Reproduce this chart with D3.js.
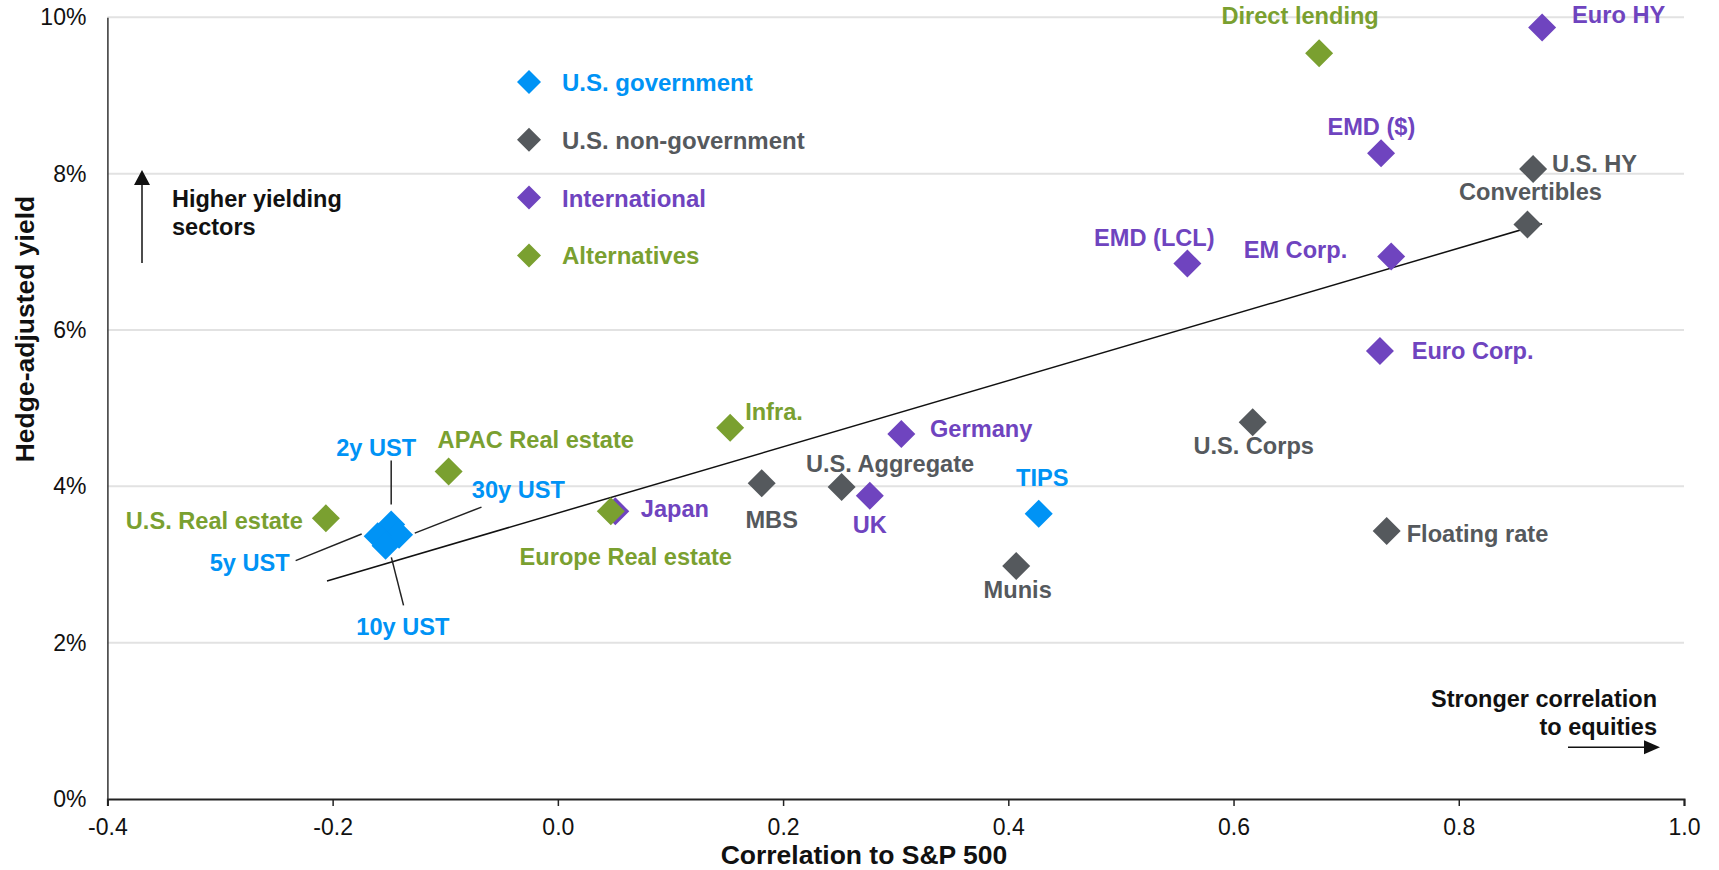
<!DOCTYPE html>
<html><head><meta charset="utf-8">
<script src="https://cdn.jsdelivr.net/npm/d3@7"></script>
<style>
body{margin:0;background:#fff;}
svg{display:block;font-family:"Liberation Sans",Arial,Helvetica,sans-serif;}
</style>
</head><body>
<svg id="chart" width="1719" height="870"></svg>
<script>
// ---------- data ----------
const groups = ["U.S. government", "U.S. non-government", "International", "Alternatives"];
const groupColors = ["#0093f5", "#55595d", "#6f44bf", "#7aa030"];

const usGovNames = ["2y UST", "30y UST", "5y UST", "10y UST", "TIPS"];
const usGovCorr  = [-0.148, -0.141, -0.160, -0.153, 0.427];
const usGovYield = [3.51, 3.38, 3.36, 3.24, 3.65];

const usNonGovNames = ["MBS", "U.S. Aggregate", "Munis", "U.S. Corps", "Floating rate", "Convertibles", "U.S. HY"];
const usNonGovCorr  = [0.181, 0.252, 0.407, 0.617, 0.736, 0.861, 0.866];
const usNonGovYield = [4.04, 3.99, 2.98, 4.82, 3.43, 7.35, 8.06];

const intlNames = ["Japan", "UK", "Germany", "EMD (LCL)", "EM Corp.", "Euro Corp.", "EMD ($)", "Euro HY"];
const intlCorr  = [0.051, 0.277, 0.305, 0.559, 0.740, 0.730, 0.731, 0.874];
const intlYield = [3.68, 3.88, 4.67, 6.85, 6.94, 5.73, 8.26, 9.87];

const altNames = ["U.S. Real estate", "APAC Real estate", "Europe Real estate", "Infra.", "Direct lending"];
const altCorr  = [-0.206, -0.097, 0.047, 0.153, 0.676];
const altYield = [3.59, 4.19, 3.68, 4.75, 9.54];

const trendCorr  = [-0.205, 0.874];
const trendYield = [2.79, 7.36];

const xTicks = [-0.4, -0.2, 0.0, 0.2, 0.4, 0.6, 0.8, 1.0];
const xTickLabels = ["-0.4", "-0.2", "0.0", "0.2", "0.4", "0.6", "0.8", "1.0"];
const yTicks = [0, 2, 4, 6, 8, 10];
const yTickLabels = ["0%", "2%", "4%", "6%", "8%", "10%"];

const xTitle = "Correlation to S&P 500";
const yTitle = "Hedge-adjusted yield";

// ---------- layout (label placement, pixels relative to point) ----------
const labelLayout = {
  "2y UST": [-15, -69, "middle", [0, -64, 0, -20]],
  "30y UST": [72.7, -36.7, "start", [82.4, -27.7, 15.7, -1.7]],
  "5y UST": [-128, 35, "middle", [-82, 24.3, -16, -2.4]],
  "10y UST": [17.3, 89, "middle", [5.8, 11.7, 18, 59.7]],
  "TIPS": [3.5, -27.3, "middle"],
  "MBS": [10, 45, "middle"],
  "U.S. Aggregate": [48.4, -15, "middle"],
  "Munis": [1.5, 31.6, "middle"],
  "U.S. Corps": [1, 31.7, "middle"],
  "Floating rate": [20, 11.3, "start"],
  "Convertibles": [3, -24, "middle"],
  "U.S. HY": [18.8, 3.3, "start"],
  "Japan": [25.5, 5.6, "start"],
  "UK": [0, 37.6, "middle"],
  "Germany": [28.7, 3, "start"],
  "EMD (LCL)": [-33, -18, "middle"],
  "EM Corp.": [-44, 1.6, "end"],
  "Euro Corp.": [31.7, 7.6, "start"],
  "EMD ($)": [-9.7, -18, "middle"],
  "Euro HY": [30, -4, "start"],
  "U.S. Real estate": [-23, 10.7, "end"],
  "APAC Real estate": [-11, -23.4, "start"],
  "Europe Real estate": [15, 54, "middle"],
  "Infra.": [15, -7.7, "start"],
  "Direct lending": [-19, -29, "middle"]
};

// ---------- build ----------
const svg = d3.select("#chart");
const x = d3.scaleLinear().domain([-0.4, 1.0]).range([107.4, 1684]);
const y = d3.scaleLinear().domain([0, 10]).range([799, 17.3]);

const groupData = [
  {g: 1, names: usNonGovNames, xs: usNonGovCorr, ys: usNonGovYield},
  {g: 2, names: intlNames, xs: intlCorr, ys: intlYield},
  {g: 3, names: altNames, xs: altCorr, ys: altYield},
  {g: 0, names: usGovNames, xs: usGovCorr, ys: usGovYield}
];
const points = [];
groupData.forEach(gd => gd.names.forEach((n, i) => points.push({name: n, c: gd.xs[i], v: gd.ys[i], g: gd.g})));

// gridlines
svg.append("g")
  .selectAll("line").data(yTicks.filter(t => t > 0)).join("line")
  .attr("x1", x(-0.4)).attr("x2", x(1.0))
  .attr("y1", d => y(d)).attr("y2", d => y(d))
  .attr("stroke", "#e2e2e2").attr("stroke-width", 2);

// x axis
const xAxis = d3.axisBottom(x).tickValues(xTicks).tickFormat((d, i) => xTickLabels[i]).tickSize(7).tickPadding(13);
const gx = svg.append("g").attr("transform", `translate(0,${y(0)})`).call(xAxis);
gx.select(".domain").attr("stroke", "#222").attr("stroke-width", 2);
gx.selectAll(".tick line").attr("stroke", "#222").attr("stroke-width", 1.5);
gx.selectAll(".tick text").attr("font-size", 23).attr("fill", "#111").attr("font-family", null);

// y axis
const yAxis = d3.axisLeft(y).tickValues(yTicks).tickFormat((d, i) => yTickLabels[i]).tickSize(0).tickPadding(21);
const gy = svg.append("g").attr("transform", `translate(${x(-0.4)},0)`).call(yAxis);
gy.select(".domain").attr("stroke", "#333").attr("stroke-width", 1.5);
gy.selectAll(".tick text").attr("font-size", 23).attr("fill", "#111").attr("font-family", null);

// axis titles
svg.append("text").attr("x", 864).attr("y", 864).attr("text-anchor", "middle")
  .attr("font-size", 26.5).attr("font-weight", "bold").attr("fill", "#111").text(xTitle);
svg.append("text").attr("transform", "translate(34,329) rotate(-90)").attr("text-anchor", "middle")
  .attr("font-size", 26.5).attr("font-weight", "bold").attr("fill", "#111").text(yTitle);

// trend line
svg.append("line")
  .attr("x1", x(trendCorr[0])).attr("y1", y(trendYield[0]))
  .attr("x2", x(trendCorr[1])).attr("y2", y(trendYield[1]))
  .attr("stroke", "#111").attr("stroke-width", 1.5);

// leader lines
svg.append("g").selectAll("line").data(points.filter(p => labelLayout[p.name] && labelLayout[p.name][3])).join("line")
  .attr("x1", p => x(p.c) + labelLayout[p.name][3][0]).attr("y1", p => y(p.v) + labelLayout[p.name][3][1])
  .attr("x2", p => x(p.c) + labelLayout[p.name][3][2]).attr("y2", p => y(p.v) + labelLayout[p.name][3][3])
  .attr("stroke", "#222").attr("stroke-width", 1.5);

// diamonds
const diamond = d3.symbol().type(d3.symbolSquare).size(392);
svg.append("g").selectAll("path").data(points).join("path")
  .attr("d", diamond)
  .attr("transform", p => `translate(${x(p.c)},${y(p.v)}) rotate(45)`)
  .attr("fill", p => groupColors[p.g]);

// labels
svg.append("g").selectAll("text").data(points).join("text")
  .attr("x", p => x(p.c) + labelLayout[p.name][0])
  .attr("y", p => y(p.v) + labelLayout[p.name][1])
  .attr("text-anchor", p => labelLayout[p.name][2])
  .attr("font-size", 23.6).attr("font-weight", "bold")
  .attr("fill", p => groupColors[p.g])
  .text(p => p.name);

// legend
const legendDiamond = d3.symbol().type(d3.symbolSquare).size(288);
const lg = svg.append("g").selectAll("g").data(groups).join("g")
  .attr("transform", (d, i) => `translate(529,${82 + i * 57.8})`);
lg.append("path").attr("d", legendDiamond).attr("transform", "rotate(45)").attr("fill", (d, i) => groupColors[i]);
lg.append("text").attr("x", 33).attr("y", 9).attr("font-size", 24).attr("font-weight", "bold")
  .attr("fill", (d, i) => groupColors[i]).text(d => d);

// annotations
const ann = svg.append("g");
ann.append("line").attr("x1", 142).attr("y1", 263).attr("x2", 142).attr("y2", 182).attr("stroke", "#111").attr("stroke-width", 1.5);
ann.append("path").attr("d", "M142,170 L134,185 L150,185 Z").attr("fill", "#111");
ann.append("text").attr("x", 172).attr("y", 206.7).attr("font-size", 23.5).attr("font-weight", "bold").attr("fill", "#111").text("Higher yielding");
ann.append("text").attr("x", 172).attr("y", 235).attr("font-size", 23.5).attr("font-weight", "bold").attr("fill", "#111").text("sectors");

ann.append("text").attr("x", 1657).attr("y", 707).attr("text-anchor", "end").attr("font-size", 23.5).attr("font-weight", "bold").attr("fill", "#111").text("Stronger correlation");
ann.append("text").attr("x", 1657).attr("y", 735).attr("text-anchor", "end").attr("font-size", 23.5).attr("font-weight", "bold").attr("fill", "#111").text("to equities");
ann.append("line").attr("x1", 1568).attr("y1", 747.3).attr("x2", 1646).attr("y2", 747.3).attr("stroke", "#111").attr("stroke-width", 1.5);
ann.append("path").attr("d", "M1660,747.3 L1644,740.3 L1644,754.3 Z").attr("fill", "#111");
</script>
</body></html>
